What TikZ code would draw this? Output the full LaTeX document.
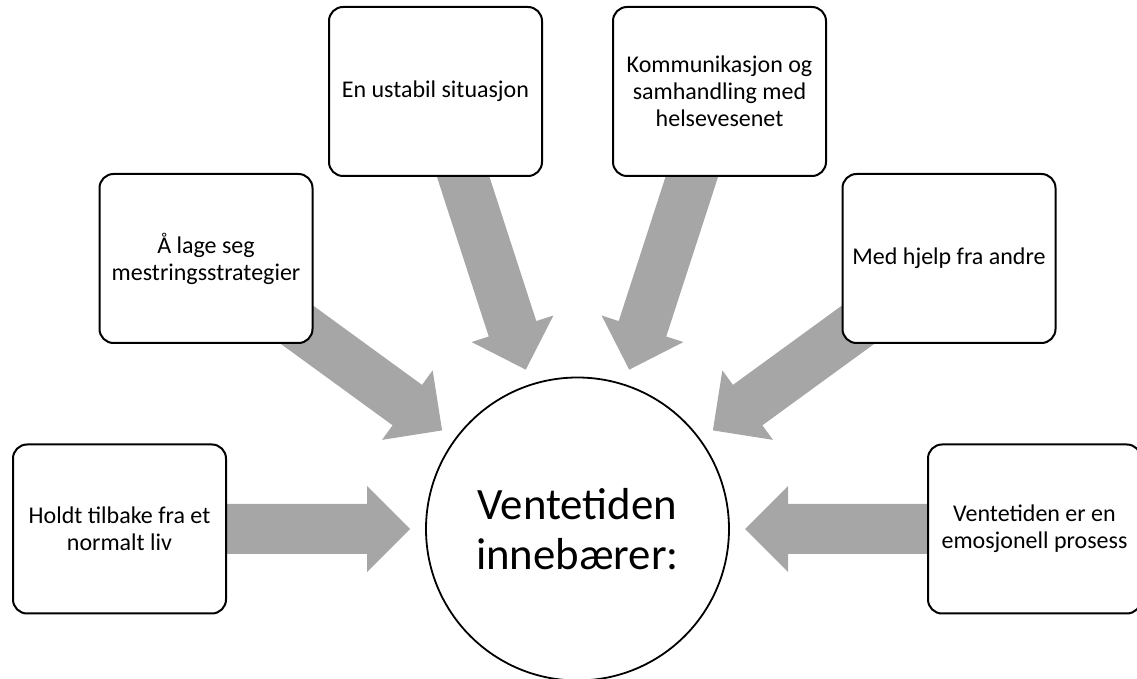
\documentclass[tikz,border=0pt]{standalone}
\usepackage{fontspec}
\setmainfont{Carlito}
\usetikzlibrary{calc}
\pgfdeclarelayer{background}
\pgfsetlayers{background,main}
\definecolor{arrowgray}{RGB}{166,166,166}

% broad grey arrow from a topic box towards the hub
\newcommand{\fatarrow}[2]{%
  \coordinate (#1-h) at ($(#2)!105.25pt!(#1)$);
  \coordinate (#1-t) at ($(#2)!83.75pt!(#1)$);
  \fill[arrowgray] ($(#1)!12.5pt!90:(#2)$) -- ($(#1-h)!12.5pt!90:(#2)$)
    -- ($(#1-h)!21.5pt!90:(#2)$) -- (#1-t) -- ($(#1-h)!21.5pt!-90:(#2)$)
    -- ($(#1-h)!12.5pt!-90:(#2)$) -- ($(#1)!12.5pt!-90:(#2)$) -- cycle;
}

\begin{document}
\begin{tikzpicture}[x=0.5pt,y=-0.5pt,
  topic/.style={draw,line width=1pt,rounded corners=7pt,fill=white,
    minimum width=106.5pt,minimum height=84.5pt,align=center,inner sep=2pt,
    font=\fontsize{12}{13.5}\selectfont},
  hubnode/.style={circle,draw,line width=0.9pt,fill=white,minimum size=151.5pt,
    inner sep=0pt,align=center,font=\fontsize{22.4}{25}\selectfont}]
\useasboundingbox (0,0) rectangle (1137,679);
\clip (0,0) rectangle (1137,679);

\node[hubnode] (hub) at (577.5,529) {Ventetiden\\innebærer:};

\node[topic] (T1) at (119.5,529) {Holdt tilbake fra et\\normalt liv};
\node[topic] (T2) at (206,258.5) {Å lage seg\\mestringsstrategier};
\node[topic] (T3) at (435.5,91.5) {En ustabil situasjon};
\node[topic] (T4) at (719.5,91.5) {Kommunikasjon og\\samhandling med\\helsevesenet};
\node[topic] (T5) at (949,258.5) {Med hjelp fra andre};
\node[topic] (T6) at (1034.5,529) {Ventetiden er en\\emosjonell prosess};

\begin{pgfonlayer}{background}
\foreach \i in {1,...,6} {\fatarrow{T\i}{hub}}
\end{pgfonlayer}
\end{tikzpicture}
\end{document}
